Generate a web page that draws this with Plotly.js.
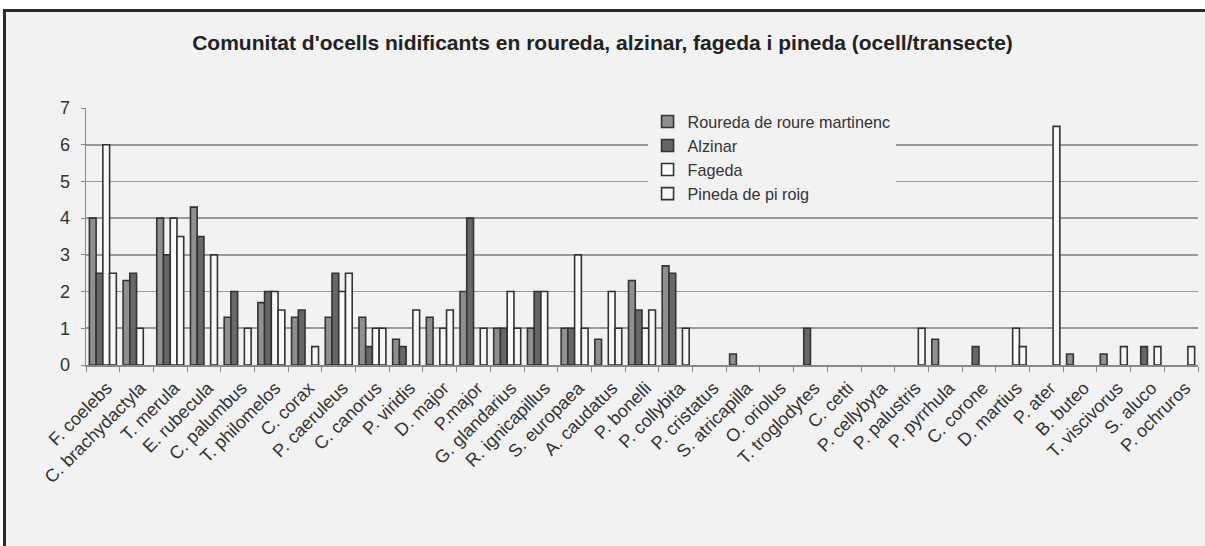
<!DOCTYPE html>
<html>
<head>
<meta charset="utf-8">
<script src="https://cdn.plot.ly/plotly-3.0.1.min.js"></script>
<style>
  html, body { margin: 0; padding: 0; background: #f2f2f2; width: 1205px; height: 546px; overflow: hidden; }
  #topband { position: absolute; left: 0; top: 0; width: 1205px; height: 9px; background: #ffffff; }
  #leftband { position: absolute; left: 0; top: 0; width: 3px; height: 546px; background: #ffffff; }
  #topline { position: absolute; left: 3px; top: 9px; width: 1202px; height: 3px; background: #2a2a2a; }
  #leftline { position: absolute; left: 3px; top: 9px; width: 3px; height: 537px; background: #2a2a2a; }
  #chart { position: absolute; left: 0; top: 0; width: 1205px; height: 546px; }
</style>
</head>
<body>
<div id="topband"></div>
<div id="leftband"></div>
<div id="topline"></div>
<div id="leftline"></div>
<div id="chart"></div>
<script>
const species = ["F. coelebs", "C. brachydactyla", "T. merula", "E. rubecula", "C. palumbus",
  "T. philomelos", "C. corax", "P. caeruleus", "C. canorus", "P. viridis", "D. major",
  "P.major", "G. glandarius", "R. ignicapillus", "S. europaea", "A. caudatus", "P. bonelli",
  "P. collybita", "P. cristatus", "S. atricapilla", "O. oriolus", "T. troglodytes", "C. cetti",
  "P. cellybyta", "P. palustris", "P. pyrrhula", "C. corone", "D. martius", "P. ater",
  "B. buteo", "T. viscivorus", "S. aluco", "P. ochruros"];

const roureda = [4, 2.3, 4, 4.3, 1.3, 1.7, 1.3, 1.3, 1.3, 0.7, 1.3, 2, 1, 1, 1, 0.7, 2.3, 2.7,
  0, 0.3, 0, 0, 0, 0, 0, 0.7, 0, 0, 0, 0.3, 0.3, 0, 0];
const alzinar = [2.5, 2.5, 3, 3.5, 2, 2, 1.5, 2.5, 0.5, 0.5, 0, 4, 1, 2, 1, 0, 1.5, 2.5,
  0, 0, 0, 1, 0, 0, 0, 0, 0.5, 0, 0, 0, 0, 0.5, 0];
const fageda = [6, 1, 4, 0, 0, 2, 0, 2, 1, 0, 1, 0, 2, 2, 3, 2, 1, 0,
  0, 0, 0, 0, 0, 0, 0, 0, 0, 1, 0, 0, 0, 0, 0];
const pineda = [2.5, 0, 3.5, 3, 1, 1.5, 0.5, 2.5, 1, 1.5, 1.5, 1, 1, 0, 1, 1, 1.5, 1,
  0, 0, 0, 0, 0, 0, 1, 0, 0, 0.5, 6.5, 0, 0.5, 0.5, 0.5];

const seriesNames = ["Roureda de roure martinenc", "Alzinar", "Fageda", "Pineda de pi roig"];
const yTicks = [0, 1, 2, 3, 4, 5, 6, 7];

const fills = ["#8f8f8f", "#676767", "#fbfbfb", "#f7f7f7"];
const data = [roureda, alzinar, fageda, pineda].map((vals, i) => ({
  type: "bar",
  name: seriesNames[i],
  x: species,
  // a zero value means no bar at all in the original chart
  y: vals.map(v => (v === 0 ? null : v)),
  marker: { color: fills[i], line: { color: "#333333", width: 1.6 } },
  hoverinfo: "x+y+name"
}));

const layout = {
  width: 1205,
  height: 546,
  paper_bgcolor: "rgba(0,0,0,0)",
  plot_bgcolor: "rgba(0,0,0,0)",
  margin: { l: 86, r: 7, t: 108, b: 181, pad: 0 },
  barmode: "group",
  bargap: 0.2,
  bargroupgap: 0,
  font: { family: "Liberation Sans, Arial, sans-serif", color: "#333333" },
  title: {
    text: "<b>Comunitat d'ocells nidificants en roureda, alzinar, fageda i pineda (ocell/transecte)</b>",
    font: { size: 21, color: "#222222", family: "Liberation Sans, Arial, sans-serif" },
    x: 0.5, xref: "container", xanchor: "center",
    y: 0.922, yref: "container", yanchor: "middle"
  },
  xaxis: {
    type: "category",
    tickangle: -45,
    tickson: "boundaries",
    ticks: "outside",
    ticklen: 5,
    tickcolor: "#888888",
    tickwidth: 1,
    showline: true,
    linecolor: "#888888",
    linewidth: 1.5,
    showgrid: false,
    tickfont: { size: 18, color: "#333333" },
    ticklabelstandoff: 4,
    ticklabelshift: 4,
    fixedrange: true
  },
  yaxis: {
    range: [0, 7],
    tickvals: yTicks,
    ticktext: yTicks.map(String),
    ticks: "outside",
    ticklen: 4,
    tickcolor: "#888888",
    showline: true,
    linecolor: "#888888",
    linewidth: 1.5,
    showgrid: true,
    gridcolor: "#9a9a9a",
    gridwidth: 1.6,
    zeroline: false,
    tickfont: { size: 18, color: "#333333" },
    ticklabelstandoff: 7,
    fixedrange: true
  },
  legend: {
    x: 0.505, xanchor: "left",
    y: 1.014, yanchor: "top",
    bgcolor: "#f2f2f2",
    borderwidth: 0,
    font: { size: 16.2, color: "#333333" },
    tracegroupgap: 0,
    itemwidth: 30
  },
  showlegend: true
};

Plotly.newPlot("chart", data, layout, { displayModeBar: false, staticPlot: true });
</script>
</body>
</html>
